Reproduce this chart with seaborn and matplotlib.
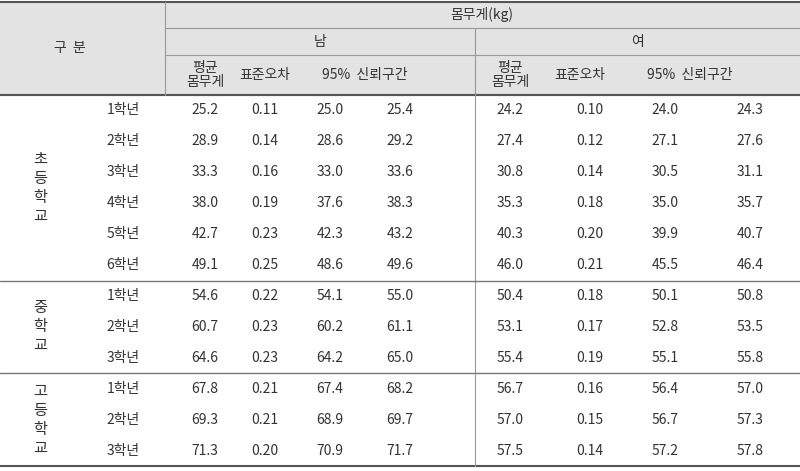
import matplotlib.pyplot as plt
import seaborn as sns

sns.set_theme(style="white", font="Noto Sans CJK KR")

groups = ["초등학교", "중학교", "고등학교"]
group_sizes = [6, 3, 3]
grades = ["1학년", "2학년", "3학년", "4학년", "5학년", "6학년",
          "1학년", "2학년", "3학년", "1학년", "2학년", "3학년"]
m_mean = [25.2, 28.9, 33.3, 38.0, 42.7, 49.1, 54.6, 60.7, 64.6, 67.8, 69.3, 71.3]
m_se = [0.11, 0.14, 0.16, 0.19, 0.23, 0.25, 0.22, 0.23, 0.23, 0.21, 0.21, 0.20]
m_lo = [25.0, 28.6, 33.0, 37.6, 42.3, 48.6, 54.1, 60.2, 64.2, 67.4, 68.9, 70.9]
m_hi = [25.4, 29.2, 33.6, 38.3, 43.2, 49.6, 55.0, 61.1, 65.0, 68.2, 69.7, 71.7]
f_mean = [24.2, 27.4, 30.8, 35.3, 40.3, 46.0, 50.4, 53.1, 55.4, 56.7, 57.0, 57.5]
f_se = [0.10, 0.12, 0.14, 0.18, 0.20, 0.21, 0.18, 0.17, 0.19, 0.16, 0.15, 0.14]
f_lo = [24.0, 27.1, 30.5, 35.0, 39.9, 45.5, 50.1, 52.8, 55.1, 56.4, 56.7, 57.2]
f_hi = [24.3, 27.6, 31.1, 35.7, 40.7, 46.4, 50.8, 53.5, 55.8, 57.0, 57.3, 57.8]

fig = plt.figure(figsize=(8, 4.71), dpi=100)
ax = fig.add_axes([0, 0, 1, 1])
ax.set_xlim(0, 800)
ax.set_ylim(471, 0)
ax.axis("off")

fs = 10
col = "#333333"
top, h_end, bottom = 2, 95, 466
row_h = (bottom - h_end) / 12

# header background
ax.axhspan(top, h_end, color="#e3e3e3", zorder=0)
ax.plot([0, 800], [top, top], color="#555555", lw=1.5)
ax.plot([0, 800], [h_end, h_end], color="#555555", lw=1.5)
ax.plot([0, 800], [bottom, bottom], color="#555555", lw=1.5)
ax.plot([165, 165], [top, h_end], color="#999999", lw=0.8)
ax.plot([165, 800], [28, 28], color="#999999", lw=0.8)
ax.plot([165, 800], [55, 55], color="#999999", lw=0.8)
ax.plot([475, 475], [28, bottom], color="#999999", lw=0.8)

ax.text(70, 48, "구  분", ha="center", va="center", fontsize=fs, color=col)
ax.text(482, 15, "몸무게(kg)", ha="center", va="center", fontsize=fs, color=col)
ax.text(320, 42, "남", ha="center", va="center", fontsize=fs, color=col)
ax.text(637, 42, "여", ha="center", va="center", fontsize=fs, color=col)
for x0 in (0, 305):
    ax.text(205 + x0, 75, "평균\n몸무게", ha="center", va="center", fontsize=fs,
            color=col, linespacing=1.0)
    ax.text(265 + x0 + (10 if x0 else 0), 75, "표준오차", ha="center", va="center",
            fontsize=fs, color=col)
    ax.text(365 + x0 + (20 if x0 else 0), 75, "95%  신뢰구간", ha="center",
            va="center", fontsize=fs, color=col)

# body
start = 0
for g, n in zip(groups, group_sizes):
    y0 = h_end + start * row_h
    y1 = h_end + (start + n) * row_h
    ax.text(40, (y0 + y1) / 2, "\n".join(g), ha="center", va="center",
            fontsize=fs + 1, color=col, linespacing=1.15)
    if start + n < 12:
        ax.plot([0, 800], [y1, y1], color="#777777", lw=1.0)
    start += n

xs = [205, 265, 330, 400, 510, 590, 665, 750]
for i in range(12):
    y = h_end + (i + 0.5) * row_h
    ax.text(123, y, grades[i], ha="center", va="center", fontsize=fs, color=col)
    vals = [f"{m_mean[i]:.1f}", f"{m_se[i]:.2f}", f"{m_lo[i]:.1f}", f"{m_hi[i]:.1f}",
            f"{f_mean[i]:.1f}", f"{f_se[i]:.2f}", f"{f_lo[i]:.1f}", f"{f_hi[i]:.1f}"]
    for x, v in zip(xs, vals):
        ax.text(x, y, v, ha="center", va="center", fontsize=fs, color=col)

fig.savefig("out.png", dpi=100)
